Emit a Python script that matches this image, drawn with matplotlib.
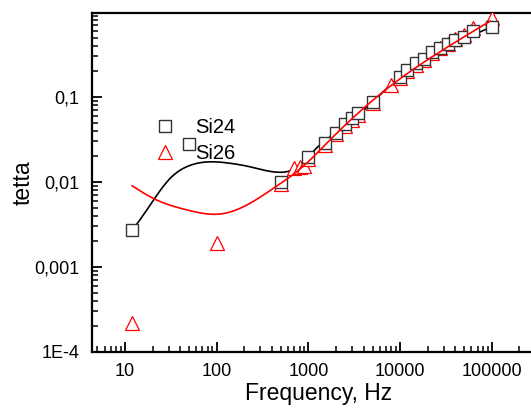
import numpy as np
import matplotlib
matplotlib.use("Agg")
import matplotlib.pyplot as plt
from matplotlib.lines import Line2D

plt.rcParams['font.family'] = ['Liberation Sans', 'DejaVu Sans']

# ---- data ----
freq_si24 = [12, 50, 500, 1000, 1500, 2000, 2500, 3000, 3500, 5000, 10000,
             12000, 15000, 18000, 22000, 27000, 33000, 40000, 50000, 63000, 100000]
tetta_si24 = [0.0027, 0.028, 0.0099, 0.0195, 0.029, 0.038, 0.048, 0.056, 0.064, 0.087, 0.174,
              0.21, 0.25, 0.28, 0.34, 0.38, 0.42, 0.47, 0.51, 0.60, 0.67]

freq_si26 = [12, 100, 500, 700, 800, 900, 1000, 1500, 2000, 2500, 3000, 3500, 5000, 8000,
             10000, 12000, 15000, 18000, 22000, 27000, 33000, 40000, 50000, 63000, 100000]
tetta_si26 = [2.2e-4, 0.0019, 0.0095, 0.0145, 0.0150, 0.0155, 0.0185, 0.0275, 0.0365, 0.046,
              0.054, 0.062, 0.084, 0.138, 0.168, 0.20, 0.24, 0.275, 0.33, 0.375, 0.42,
              0.48, 0.53, 0.64, 0.86]

# smooth fit curves (knots of the drawn spline curves)
fit24_f = [12, 14.6, 20.4, 31, 47, 78, 140, 230, 490, 685, 955, 1330, 2000, 5000,
           10000, 30000, 100000]
fit24_v = [0.0027, 0.0036, 0.0061, 0.011, 0.0151, 0.0172, 0.0166, 0.0151, 0.013, 0.0141,
           0.019, 0.0272, 0.038, 0.087, 0.175, 0.37, 0.67]
fit26_f = [12, 20.4, 47, 109, 230, 414, 630, 955, 1580, 9180, 29600, 95500]
fit26_v = [0.009, 0.0064, 0.0047, 0.0042, 0.0056, 0.0084, 0.0115, 0.0166, 0.0285,
           0.153, 0.36, 0.78]

xticks = [10, 100, 1000, 10000, 100000]
xticklabels = ['10', '100', '1000', '10000', '100000']
yticks = [1e-4, 1e-3, 1e-2, 1e-1]
yticklabels = ['1E-4', '0,001', '0,01', '0,1']


def natural_spline(x, y, xs):
    x = np.asarray(x, float); y = np.asarray(y, float)
    n = len(x); h = np.diff(x)
    A = np.zeros((n, n)); b = np.zeros(n)
    A[0, 0] = 1; A[-1, -1] = 1
    for i in range(1, n - 1):
        A[i, i - 1] = h[i - 1]; A[i, i] = 2 * (h[i - 1] + h[i]); A[i, i + 1] = h[i]
        b[i] = 6 * ((y[i + 1] - y[i]) / h[i] - (y[i] - y[i - 1]) / h[i - 1])
    M = np.linalg.solve(A, b)
    idx = np.clip(np.searchsorted(x, xs) - 1, 0, n - 2)
    xi, xi1, hi = x[idx], x[idx + 1], h[idx]
    return (M[idx] * (xi1 - xs) ** 3 / (6 * hi) + M[idx + 1] * (xs - xi) ** 3 / (6 * hi)
            + (y[idx] / hi - M[idx] * hi / 6) * (xi1 - xs)
            + (y[idx + 1] / hi - M[idx + 1] * hi / 6) * (xs - xi))


def curve(fx, fy):
    lx = np.log10(fx); ly = np.log10(fy)
    xs = np.linspace(lx[0], lx[-1], 400)
    return 10 ** xs, 10 ** natural_spline(lx, ly, xs)


W, H = 531, 411
fig = plt.figure(figsize=(W / 100, H / 100), dpi=100)
ax = fig.add_axes([92 / W, 1 - 352 / H, (545 - 92) / W, (352 - 12.7) / H])
ax.set_xscale('log'); ax.set_yscale('log')
ax.set_xlim(4.37, 3.8e5)
ax.set_ylim(1e-4, 0.98)

cx, cy = curve(fit24_f, fit24_v)
ax.plot(cx, cy, color='black', lw=1.2, zorder=2)
ax.plot(freq_si26, tetta_si26, ls='none', marker='^', ms=9.5, mfc='white', mec='red',
        mew=0.9, zorder=3)
ax.plot(freq_si24, tetta_si24, ls='none', marker='s', ms=8, mfc='white', mec='#333333',
        mew=1.0, zorder=4)
rx, ry = curve(fit26_f, fit26_v)
ax.plot(rx, ry, color='red', lw=1.2, zorder=5)

for s in ['left', 'bottom', 'top']:
    ax.spines[s].set_linewidth(1.6)
ax.spines['right'].set_visible(False)

ax.set_xticks(xticks)
ax.set_xticklabels(xticklabels)
ax.set_yticks(yticks)
ax.set_yticklabels(yticklabels)
ax.tick_params(which='major', direction='in', length=7, width=1.3, labelsize=13, pad=9,
               top=False, right=False)
ax.tick_params(which='minor', direction='in', length=4, width=1.1, top=False, right=False)
ax.tick_params(axis='x', which='major', pad=8)

ax.set_xlabel('Frequency, Hz', fontsize=16.5, labelpad=1)
ax.set_ylabel('tetta', fontsize=16.5, labelpad=0)

handles = [Line2D([], [], ls='none', marker='s', ms=8, mfc='white', mec='#333333', mew=1.0),
           Line2D([], [], ls='none', marker='^', ms=9.5, mfc='white', mec='red', mew=0.9)]
ax.legend(handles, ['Si24', 'Si26'], loc='upper left', frameon=False, fontsize=14.5,
          bbox_to_anchor=(155.3 / W, 1 - 118 / H), bbox_transform=fig.transFigure,
          borderpad=0, borderaxespad=0, handlelength=1.0, handletextpad=1.0,
          labelspacing=0.35)

fig.savefig('out.png', dpi=100)
